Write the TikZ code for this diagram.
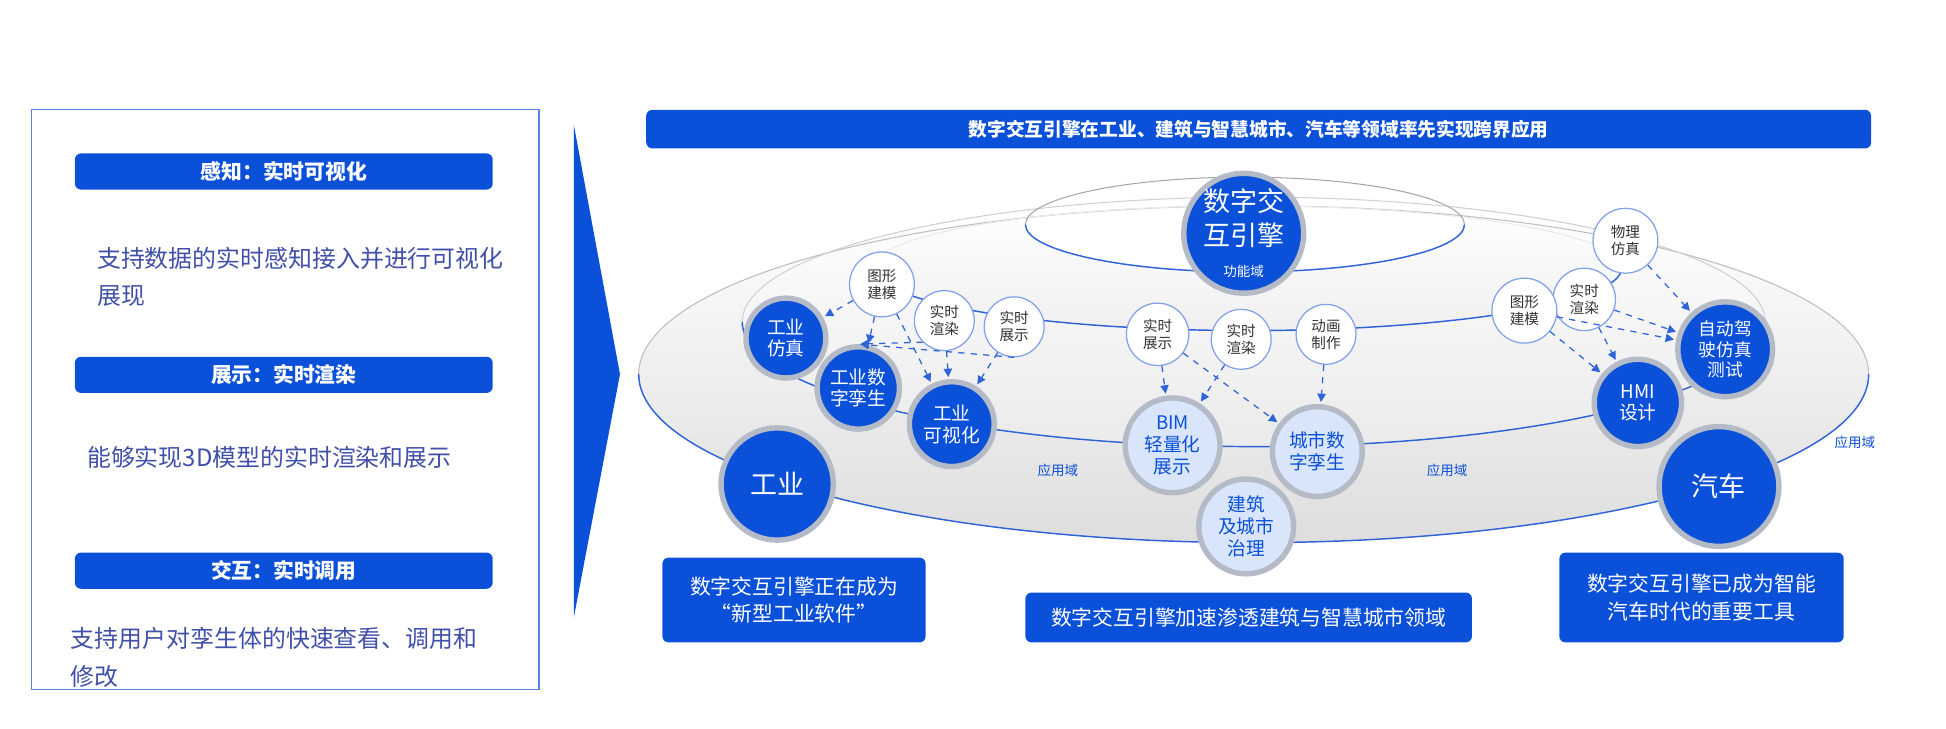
\documentclass[tikz,border=0pt]{standalone}
\usepackage{fontspec}
\setmainfont{Noto Sans CJK SC}
\usetikzlibrary{arrows.meta}
\definecolor{db}{HTML}{0A50D8}
\definecolor{lb}{HTML}{D8E5FB}
\definecolor{txt}{HTML}{4050A8}
\definecolor{ring}{HTML}{B4BAC6}
\definecolor{lnc}{HTML}{2F63D8}
\begin{document}
\begin{tikzpicture}[x=0.6pt,y=-0.6pt,
  bar/.style={fill=db,rounded corners=3pt,text=white,font=\bfseries\fontsize{10}{12}\selectfont},
  dn/.style={circle,fill=db,draw=ring,line width=2.6pt,minimum size=#1*0.6pt,inner sep=0,text=white,align=center,font=\fontsize{9}{10.5}\selectfont},
  lnode/.style={circle,fill=lb,draw=ring,line width=2.6pt,minimum size=#1*0.6pt,inner sep=0,text=db,align=center,font=\fontsize{9}{10.5}\selectfont},
  wn/.style={circle,fill=white,draw=lnc!60,line width=0.6pt,minimum size=#1*0.6pt,inner sep=0,text=black!80,align=center,font=\fontsize{7}{8.2}\selectfont},
  da/.style={draw=lnc,dashed,line width=0.6pt,-{Triangle[length=4pt,width=4pt]},shorten >=1pt},
  box/.style={fill=db,rounded corners=3pt,text=white,align=center,font=\fontsize{10}{13}\selectfont},
  lab/.style={text=db,font=\fontsize{6.5}{8}\selectfont}]
\useasboundingbox (0,0) rectangle (1560,584);
% left panel
\draw[draw=lnc!80,line width=0.6pt] (25,88) rectangle (432,553);
\node[bar,minimum width=335*0.6pt,minimum height=29*0.6pt] (h1) at (227.5,137.5) {感知：实时可视化};
\node[bar,minimum width=335*0.6pt,minimum height=29*0.6pt] (h2) at (227.5,300.5) {展示：实时渲染};
\node[bar,minimum width=335*0.6pt,minimum height=29*0.6pt] (h3) at (227.5,457.5) {交互：实时调用};
\node[anchor=west,text=txt,font=\fontsize{11.5}{18}\selectfont,align=left] (t1) at (72,222) {支持数据的实时感知接入并进行可视化\\展现};
\node[anchor=west,text=txt,font=\fontsize{11.5}{18}\selectfont] (t2) at (64,367) {能够实现3D模型的实时渲染和展示};
\node[anchor=west,text=txt,font=\fontsize{11.5}{18}\selectfont,align=left] (t3) at (51,527) {支持用户对孪生体的快速查看、调用和\\修改};
% arrow triangle
\fill[db] (460,100) -- (497,300) -- (460,495) -- cycle;
% top bar
\node[bar,minimum width=982*0.6pt,minimum height=31*0.6pt,font=\bfseries\fontsize{9}{11}\selectfont] (top) at (1009,103.5) {数字交互引擎在工业、建筑与智慧城市、汽车等领域率先实现跨界应用};
% rings
\fill[top color=white,bottom color=black!13] (1005,300) ellipse [x radius=295.8pt,y radius=81pt];
\fill[top color=white,bottom color=black!8] (1005,258) ellipse [x radius=246pt,y radius=60pt];
\fill[top color=white,bottom color=black!6] (1000,215) ellipse [x radius=180pt,y radius=30pt];
\fill[white] (998,180) ellipse [x radius=105.6pt,y radius=22.8pt];
\foreach \cx/\cy/\rx/\ry/\bk in {1005/300/295.8/81/25, 1005/258/246/60/18, 1000/215/180/30/8, 998/180/105.6/22.8/35}{
  \draw[black!\bk,line width=0.5pt] (\cx,\cy) ++(-\rx pt,0) arc[start angle=180,end angle=0,x radius=\rx pt,y radius=\ry pt];
  \draw[lnc,line width=0.7pt] (\cx,\cy) ++(-\rx pt,0) arc[start angle=180,end angle=360,x radius=\rx pt,y radius=\ry pt];
}
% nodes
\node[dn=96,font=\fontsize{13}{16}\selectfont] (eng) at (997,187) {数字交\\互引擎\\[-1pt]{\fontsize{6.5}{8}\selectfont 功能域}};
\node[dn=64] (fz) at (630,271) {工业\\仿真};
\node[dn=66] (sz) at (688,311) {工业数\\字孪生};
\node[dn=68] (ks) at (763,340) {工业\\可视化};
\node[dn=90,font=\fontsize{13}{16}\selectfont] (gy) at (623,388) {工业};
\node[wn=52] (a1) at (707,228) {图形\\建模};
\node[wn=48] (a2) at (757,257) {实时\\渲染};
\node[wn=48] (a3) at (813,262) {实时\\展示};
\node[wn=50] (b1) at (928,268) {实时\\展示};
\node[wn=48] (b2) at (995,272) {实时\\渲染};
\node[wn=48] (b3) at (1063,268) {动画\\制作};
\node[lnode=76] (bim) at (940,357) {BIM\\轻量化\\展示};
\node[lnode=72] (cs) at (1056,362) {城市数\\字孪生};
\node[lnode=76] (jz) at (999,422) {建筑\\及城市\\治理};
\node[wn=52] (c1) at (1303,193) {物理\\仿真};
\node[wn=50] (c2) at (1270,240) {实时\\渲染};
\node[wn=52] (c3) at (1222,249) {图形\\建模};
\node[dn=76,font=\fontsize{8.5}{10}\selectfont] (zd) at (1383,280) {自动驾\\驶仿真\\测试};
\node[dn=70] (hmi) at (1313,323) {HMI\\设计};
\node[dn=96,font=\fontsize{13}{16}\selectfont] (qc) at (1378,390) {汽车};
% labels
\node[lab] (l1) at (848,377) {应用域};
\node[lab] (l2) at (1160,377) {应用域};
\node[lab] (l3) at (1487,355) {应用域};
% dashed arrows
\draw[da] (a1) -- (fz);
\draw[da] (a1) -- (sz);
\draw[da] (a1) -- (ks);
\draw[da] (a2) -- (ks);
\draw[da] (a3) -- (ks);
\draw[da] (a2.south west) -- (sz.north);
\draw[da] (a3.south) -- (sz.north);
\draw[da] (b1) -- (bim);
\draw[da] (b1) -- (cs);
\draw[da] (b2) -- (bim);
\draw[da] (b3) -- (cs);
\draw[da] (c1) -- (zd);
\draw[da] (c2) -- (zd);
\draw[da] (c3) -- (zd);
\draw[da] (c3) -- (hmi);
\draw[da] (c2) -- (hmi);
% bottom boxes
\node[box,minimum width=211*0.6pt,minimum height=68*0.6pt] (bx1) at (636.5,481) {数字交互引擎正在成为\\“新型工业软件”};
\node[box,minimum width=358*0.6pt,minimum height=40*0.6pt] (bx2) at (1001,495) {数字交互引擎加速渗透建筑与智慧城市领域};
\node[box,minimum width=228*0.6pt,minimum height=72*0.6pt] (bx3) at (1364,479) {数字交互引擎已成为智能\\汽车时代的重要工具};
\end{tikzpicture}
\end{document}
